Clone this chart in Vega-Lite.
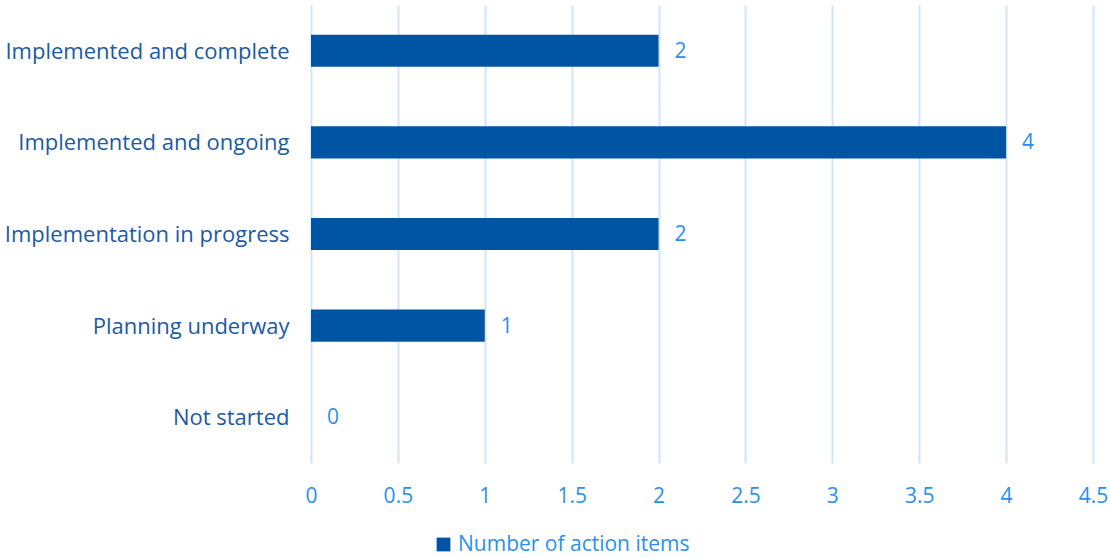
{
  "$schema": "https://vega.github.io/schema/vega-lite/v6.json",
  "autosize": {"type": "none"},
  "width": 782,
  "height": 458,
  "padding": {"left": 311, "top": 5, "right": 17, "bottom": 95},
  "background": "white",
  "config": {
    "view": {"stroke": null},
    "font": "Open Sans"
  },
  "data": {
    "values": [
      {"status": "Implemented and complete", "count": 2, "series": "Number of action items"},
      {"status": "Implemented and ongoing", "count": 4, "series": "Number of action items"},
      {"status": "Implementation in progress", "count": 2, "series": "Number of action items"},
      {"status": "Planning underway", "count": 1, "series": "Number of action items"},
      {"status": "Not started", "count": 0, "series": "Number of action items"}
    ]
  },
  "encoding": {
    "y": {
      "field": "status",
      "type": "nominal",
      "sort": null,
      "scale": {"paddingInner": 0.65, "paddingOuter": 0.325},
      "axis": {
        "title": null,
        "domain": false,
        "ticks": false,
        "labelFontSize": 22,
        "labelColor": "#1c5aa0",
        "labelPadding": 22,
        "labelLimit": 320,
        "labelOffset": 1
      }
    },
    "x": {
      "field": "count",
      "type": "quantitative",
      "scale": {"domain": [0, 4.5], "nice": false},
      "axis": {
        "title": null,
        "domain": false,
        "ticks": false,
        "format": "~g",
        "values": [0, 0.5, 1, 1.5, 2, 2.5, 3, 3.5, 4, 4.5],
        "grid": true,
        "gridColor": "#cfe5fb",
        "gridWidth": 2,
        "labelFontSize": 21,
        "labelColor": "#2b8ff0",
        "labelPadding": 22,
        "labelFlush": false
      }
    }
  },
  "layer": [
    {
      "mark": {"type": "bar", "stroke": null},
      "encoding": {
        "color": {
          "field": "series",
          "type": "nominal",
          "scale": {"range": ["#0054a4"]},
          "legend": {
            "title": null,
            "orient": "none",
            "legendX": 122,
            "legendY": 529,
            "symbolType": "square",
            "symbolSize": 190,
            "symbolStrokeWidth": 0,
            "labelFontSize": 21,
            "labelColor": "#2b8ff0",
            "labelOffset": 4,
            "labelLimit": 400
          }
        }
      }
    },
    {
      "mark": {"type": "text", "align": "left", "dx": 16, "dy": 1, "fontSize": 21, "color": "#2b8ff0"},
      "encoding": {
        "text": {"field": "count", "type": "quantitative"}
      }
    }
  ]
}
